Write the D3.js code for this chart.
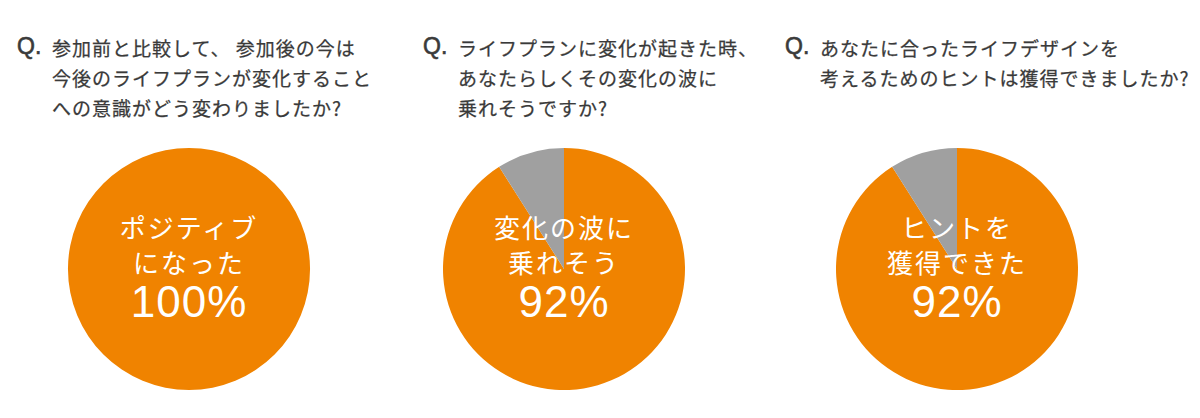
<!DOCTYPE html>
<html>
<head>
<meta charset="utf-8">
<script src="https://cdn.jsdelivr.net/npm/d3@7"></script>
<style>
  html, body { margin: 0; padding: 0; background: #fff; }
  svg { display: block; font-family: "Noto Sans CJK JP", "Noto Sans", sans-serif; }
</style>
</head>
<body>
<script>
// Chart data
const questionLines = [
  ["参加前と比較して、 参加後の今は", "今後のライフプランが変化すること", "への意識がどう変わりましたか?"],
  ["ライフプランに変化が起きた時、", "あなたらしくその変化の波に", "乗れそうですか?"],
  ["あなたに合ったライフデザインを", "考えるためのヒントは獲得できましたか?"]
];
const answerLines = [
  ["ポジティブ", "になった"],
  ["変化の波に", "乗れそう"],
  ["ヒントを", "獲得できた"]
];
const percentLabels = ["100%", "92%", "92%"];
const yesShares = [100, 91, 91];
const otherShares = [0, 9, 9];

// Setup reference values
const w = 1200;
const h = 418;
const r = 121;
const cy = 269;
const orange = "#f08300";
const grey = "#a0a0a0";
const textColor = "#3a3a3a";

const svg = d3.select("body")
  .append("svg")
  .attr("width", w)
  .attr("height", h);

// x positions of each panel
const centerX = d3.scaleOrdinal().domain([0, 1, 2]).range([189, 564, 957]);
const qX = d3.scaleOrdinal().domain([0, 1, 2]).range([17, 423, 785]);

const pie = d3.pie().sort(null).value(d => d);
const arc = d3.arc().innerRadius(0).outerRadius(r);
const colors = d3.scaleOrdinal().domain([0, 1]).range([orange, grey]);

questionLines.forEach((lines, i) => {
  const g = svg.append("g");

  // Question header
  g.append("text")
    .attr("x", qX(i))
    .attr("y", 54)
    .attr("fill", textColor)
    .attr("stroke", textColor)
    .attr("stroke-width", 0.6)
    .attr("font-size", 23)
    .attr("font-family", "Liberation Sans, Arial, sans-serif")
    .text("Q.");

  g.selectAll("text.q-line")
    .data(lines)
    .enter()
    .append("text")
    .attr("class", "q-line")
    .attr("x", qX(i) + 35)
    .attr("y", (d, j) => 56 + j * 30)
    .attr("fill", textColor)
    .attr("stroke", textColor)
    .attr("stroke-width", 0.25)
    .attr("font-size", 19)
    .attr("letter-spacing", 1)
    .text(d => d);

  // Pie
  const pg = g.append("g")
    .attr("transform", `translate(${centerX(i)}, ${cy})`);

  pg.selectAll("path")
    .data(pie([yesShares[i], otherShares[i]]))
    .enter()
    .append("path")
    .attr("d", arc)
    .attr("fill", (d, j) => colors(j));

  // Labels inside
  pg.selectAll("text.a-line")
    .data(answerLines[i])
    .enter()
    .append("text")
    .attr("class", "a-line")
    .attr("x", 0)
    .attr("y", (d, j) => -31 + j * 35)
    .attr("text-anchor", "middle")
    .attr("fill", "#fff")
    .attr("font-size", 26)
    .attr("letter-spacing", 2)
    .text(d => d);

  pg.append("text")
    .attr("x", 0)
    .attr("y", 48)
    .attr("text-anchor", "middle")
    .attr("fill", "#fff")
    .attr("font-size", 44)
    .attr("letter-spacing", 1)
    .attr("font-family", "Liberation Sans, Arial, sans-serif")
    .text(percentLabels[i]);
});
</script>
</body>
</html>
